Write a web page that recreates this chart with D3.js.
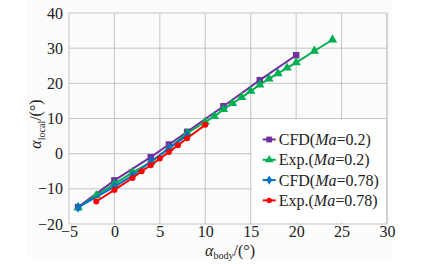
<!DOCTYPE html>
<html>
<head>
<meta charset="utf-8">
<script src="https://cdn.jsdelivr.net/npm/d3@7"></script>
<style>
  body { margin: 0; background: #fff; }
  svg text { font-family: "Liberation Serif", "DejaVu Serif", serif; fill: #222; }
</style>
</head>
<body>
<div id="chart"></div>
<script>
// data
const xTicks = [-5, 0, 5, 10, 15, 20, 25, 30];
const yTicks = [-20, -10, 0, 10, 20, 30, 40];

const cfd02 = [[-4, -15.2], [0, -7.6], [4, -1.0], [6, 2.6], [8, 6.2], [12, 13.5], [16, 20.9], [20, 28.0]];
const exp02 = [[-4, -15.3], [-2, -11.9], [0, -8.6], [2, -5.3], [4, -2.4], [6, 1.5], [8, 5.8], [10, 9.0],
  [11, 10.6], [12, 12.6], [13, 14.3], [14, 16.0], [15, 17.8], [16, 19.6], [17, 21.3], [18, 22.8],
  [19, 24.4], [20, 25.9], [22, 29.2], [24, 32.4]];
const cfd078 = [[-4, -15.3], [0, -9.4], [2, -6.2], [4, -2.3], [6, 1.5], [8, 5.2]];
const exp078 = [[-2, -13.6], [0, -10.3], [2, -6.9], [3, -5.0], [4, -3.3], [5, -1.4], [6, 0.5], [7, 2.4], [8, 4.4], [10, 8.2]];

const seriesNames = ["CFD", "Exp.", "CFD", "Exp."];
const seriesMa = ["0.2", "0.2", "0.78", "0.78"];
const seriesData = [cfd02, exp02, cfd078, exp078];
const seriesColors = ["#7030a0", "#00b050", "#0070c0", "#ff0000"];
const seriesMarkers = [d3.symbolSquare, d3.symbolTriangle, d3.symbolDiamond, d3.symbolCircle];
const markerSizes = [42, 38, 32, 28];

const W = 430, H = 264;
const margin = { top: 13, right: 43, bottom: 40, left: 69 };
const width = W - margin.left - margin.right;
const height = H - margin.top - margin.bottom;
const serif = "'Liberation Serif', 'DejaVu Serif', serif";

const svg = d3.select("#chart").append("svg")
  .attr("width", W)
  .attr("height", H)
  .attr("font-family", serif);

// faint figure background
svg.append("rect")
  .attr("x", 26).attr("y", 0)
  .attr("width", 367).attr("height", 258)
  .attr("fill", "#fcfcfc");

const g = svg.append("g")
  .attr("transform", `translate(${margin.left},${margin.top})`);

const x = d3.scaleLinear().domain([-5, 30]).range([0, width]);
const y = d3.scaleLinear().domain([-20, 40]).range([height, 0]);

// grid
g.append("g").selectAll("line")
  .data(xTicks).enter().append("line")
  .attr("x1", d => x(d)).attr("x2", d => x(d))
  .attr("y1", 0).attr("y2", height)
  .attr("stroke", "#c4c4c4").attr("stroke-width", 1);

g.append("g").selectAll("line")
  .data(yTicks).enter().append("line")
  .attr("x1", 0).attr("x2", width)
  .attr("y1", d => y(d)).attr("y2", d => y(d))
  .attr("stroke", "#c4c4c4").attr("stroke-width", 1);

// tick labels
const xAxis = g.append("g")
  .attr("transform", `translate(0,${height})`)
  .call(d3.axisBottom(x).tickValues(xTicks).tickSize(0).tickPadding(2));
xAxis.select(".domain").remove();
xAxis.attr("font-family", serif).attr("font-size", 16);
xAxis.selectAll("text").attr("fill", "#222");

const yAxis = g.append("g")
  .call(d3.axisLeft(y).tickValues(yTicks).tickSize(0).tickPadding(6));
yAxis.select(".domain").remove();
yAxis.attr("font-family", serif).attr("font-size", 16);
yAxis.selectAll("text").attr("fill", "#222");

// lines and markers
const line = d3.line().x(d => x(d[0])).y(d => y(d[1]));

seriesData.forEach((data, i) => {
  g.append("path")
    .datum(data)
    .attr("fill", "none")
    .attr("stroke", seriesColors[i])
    .attr("stroke-width", 2)
    .attr("d", line);

  g.append("g").selectAll("path")
    .data(data).enter().append("path")
    .attr("transform", d => `translate(${x(d[0])},${y(d[1])})`)
    .attr("d", d3.symbol().type(seriesMarkers[i]).size(markerSizes[i]))
    .attr("fill", seriesColors[i]);
});

// legend
const legend = g.append("g")
  .attr("transform", `translate(${x(15) + 1},${y(10) + 1})`);

legend.append("rect")
  .attr("width", x(30) - x(15) - 2)
  .attr("height", 103)
  .attr("fill", "#fff");

seriesData.forEach((data, i) => {
  const item = legend.append("g")
    .attr("transform", `translate(0,${20 + i * 20.3})`);

  item.append("line")
    .attr("x1", 11).attr("x2", 24)
    .attr("y1", 0).attr("y2", 0)
    .attr("stroke", seriesColors[i]).attr("stroke-width", 2);

  item.append("path")
    .attr("transform", "translate(17.5,0)")
    .attr("d", d3.symbol().type(seriesMarkers[i]).size(markerSizes[i] * 0.8))
    .attr("fill", seriesColors[i]);

  const t = item.append("text")
    .attr("x", 27).attr("y", 5.5)
    .style("font-size", "16px");
  t.append("tspan").text(seriesNames[i] + "(");
  t.append("tspan").style("font-style", "italic").text("Ma");
  t.append("tspan").text("=" + seriesMa[i] + ")");
});

// plot border (right side)
g.append("line")
  .attr("x1", width).attr("x2", width)
  .attr("y1", 0).attr("y2", height)
  .attr("stroke", "#c4c4c4");

// axis titles
const xTitle = svg.append("text")
  .attr("x", 230).attr("y", 255.5)
  .attr("text-anchor", "middle")
  .style("font-size", "16px");
xTitle.append("tspan").style("font-style", "italic").text("α");
xTitle.append("tspan").attr("dy", 3).style("font-size", "10px").text("body");
xTitle.append("tspan").attr("dy", -3).text("/(°)");

const yTitle = svg.append("text")
  .attr("transform", "translate(41,124) rotate(-90)")
  .attr("text-anchor", "middle")
  .style("font-size", "16px");
yTitle.append("tspan").style("font-style", "italic").text("α");
yTitle.append("tspan").attr("dy", 4).style("font-size", "10px").text("local");
yTitle.append("tspan").attr("dy", -4).text("/(°)");
</script>
</body>
</html>
